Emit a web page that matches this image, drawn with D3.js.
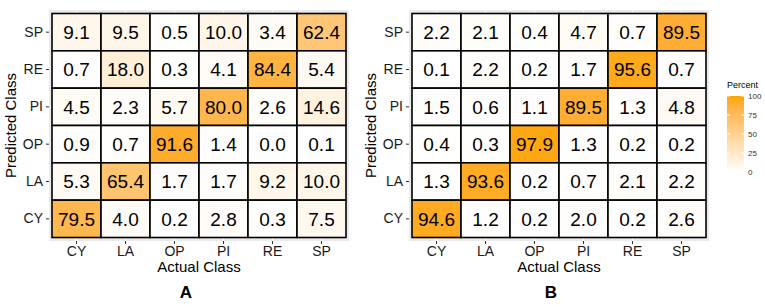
<!DOCTYPE html>
<html><head><meta charset="utf-8">
<script src="https://cdn.jsdelivr.net/npm/d3@7"></script>
<style>
body{margin:0;background:#fff;}
svg{display:block;font-family:Arial,"Liberation Sans",sans-serif;}
.tick line{stroke:#333;}
.tick text{fill:#1a1a1a;}
</style></head>
<body><svg id="c" width="765" height="307"></svg>
<script>
const actualClasses = ["CY","LA","OP","PI","RE","SP"];
const predictedClasses = ["SP","RE","PI","OP","LA","CY"]; // top to bottom
const valuesA = [
  [9.1, 9.5, 0.5, 10.0, 3.4, 62.4],
  [0.7, 18.0, 0.3, 4.1, 84.4, 5.4],
  [4.5, 2.3, 5.7, 80.0, 2.6, 14.6],
  [0.9, 0.7, 91.6, 1.4, 0.0, 0.1],
  [5.3, 65.4, 1.7, 1.7, 9.2, 10.0],
  [79.5, 4.0, 0.2, 2.8, 0.3, 7.5]
];
const valuesB = [
  [2.2, 2.1, 0.4, 4.7, 0.7, 89.5],
  [0.1, 2.2, 0.2, 1.7, 95.6, 0.7],
  [1.5, 0.6, 1.1, 89.5, 1.3, 4.8],
  [0.4, 0.3, 97.9, 1.3, 0.2, 0.2],
  [1.3, 93.6, 0.2, 0.7, 2.1, 2.2],
  [94.6, 1.2, 0.2, 2.0, 0.2, 2.6]
];
const legendTicks = [0, 25, 50, 75, 100];
const panelLabels = ["A", "B"];

const svg = d3.select("#c");
const color = d3.scaleLinear().domain([0,100]).range(["#ffffff","#ffa500"]).interpolate(d3.interpolateLab);

function panel(vals, left, label, labelX) {
  const top = 13.5, w = 294, h = 224;
  const g = svg.append("g");
  const x = d3.scaleBand().domain(actualClasses).range([left, left + w]);
  const y = d3.scaleBand().domain(predictedClasses).range([top, top + h]);
  g.append("rect").attr("x", left - 3).attr("y", top - 3.5).attr("width", w + 6).attr("height", h + 7)
    .attr("fill", "#ebebeb");
  actualClasses.forEach(c => {
    g.append("line").attr("x1", x(c) + x.bandwidth()/2).attr("x2", x(c) + x.bandwidth()/2)
      .attr("y1", top - 3.5).attr("y2", top + h + 3.5).attr("stroke", "#fff").attr("stroke-width", 1);
  });
  const cells = [];
  vals.forEach((row, i) => row.forEach((v, j) => cells.push({p: predictedClasses[i], a: actualClasses[j], v})));
  g.selectAll("rect.cell").data(cells).join("rect").attr("class","cell")
    .attr("x", d => x(d.a)).attr("y", d => y(d.p))
    .attr("width", x.bandwidth()).attr("height", y.bandwidth())
    .attr("fill", d => color(d.v)).attr("stroke", "#000").attr("stroke-width", 1.6);
  g.selectAll("text.val").data(cells).join("text").attr("class","val")
    .attr("x", d => x(d.a) + x.bandwidth()/2).attr("y", d => y(d.p) + y.bandwidth()/2)
    .attr("dy", "0.36em").attr("text-anchor", "middle").attr("font-size", 19).attr("fill", "#000")
    .text(d => d3.format(".1f")(d.v));
  const ax = g.append("g").attr("transform", `translate(0,${top + h + 3.5})`)
    .call(d3.axisBottom(x).tickSize(3).tickPadding(2));
  ax.select(".domain").remove();
  ax.selectAll("text").attr("font-size", 14);
  const ay = g.append("g").attr("transform", `translate(${left - 3},0)`)
    .call(d3.axisLeft(y).tickSize(3).tickPadding(3));
  ay.select(".domain").remove();
  ay.selectAll("text").attr("font-size", 14);
  g.append("text").attr("x", left + w/2).attr("y", 272).attr("text-anchor","middle")
    .attr("font-size", 15).attr("fill","#000").text("Actual Class");
  g.append("text").attr("transform", `translate(${left - 36},${top + h/2}) rotate(-90)`)
    .attr("text-anchor","middle").attr("font-size", 15).attr("fill","#000").text("Predicted Class");
  g.append("text").attr("x", labelX).attr("y", 298).attr("text-anchor","middle")
    .attr("font-size", 17).attr("font-weight","bold").attr("fill","#000").text(label);
}
panel(valuesA, 52, panelLabels[0], 186);
panel(valuesB, 412, panelLabels[1], 551);

// legend
const lx = 727, lw = 17, ly0 = 172, ly1 = 96;
const ls = d3.scaleLinear().domain([0,100]).range([ly0, ly1]);
const defs = svg.append("defs");
const grad = defs.append("linearGradient").attr("id","lg").attr("x1",0).attr("y1",1).attr("x2",0).attr("y2",0);
d3.range(0, 101, 10).forEach(v => grad.append("stop").attr("offset", v/100).attr("stop-color", color(v)));
svg.append("rect").attr("x", lx).attr("y", ly1).attr("width", lw).attr("height", ly0 - ly1).attr("fill","url(#lg)");
legendTicks.forEach(t => {
  svg.append("line").attr("x1", lx).attr("x2", lx + 3).attr("y1", ls(t)).attr("y2", ls(t)).attr("stroke","#fff");
  svg.append("line").attr("x1", lx + lw - 3).attr("x2", lx + lw).attr("y1", ls(t)).attr("y2", ls(t)).attr("stroke","#fff");
  svg.append("text").attr("x", lx + lw + 4).attr("y", ls(t)).attr("dy","0.35em").attr("font-size", 8)
    .attr("fill","#333").text(t);
});
svg.append("text").attr("x", lx).attr("y", 88).attr("font-size", 9).attr("fill","#000").text("Percent");
</script></body></html>
